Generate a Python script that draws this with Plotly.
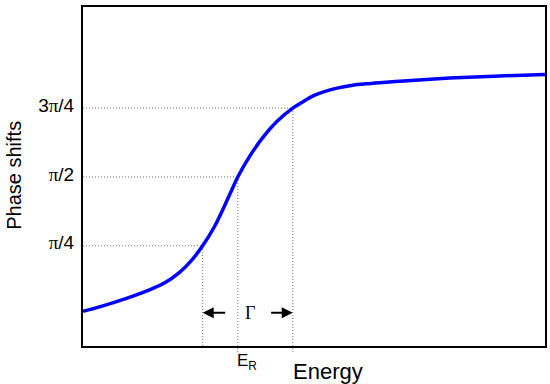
import plotly.graph_objects as go

# Curve (energy in arbitrary units 0..10, phase in radians)
energy = [0, 0.36, 0.94, 1.44, 1.77, 2.09, 2.35, 2.59, 2.85, 3.07, 3.22, 3.35,
          3.61, 3.89, 4.19, 4.54, 4.76, 4.97, 5.19, 5.41, 5.62, 5.84, 6.12,
          6.42, 7.03, 7.94, 9.02, 10]
phase = [0.037, 0.089, 0.186, 0.283, 0.363, 0.483, 0.620, 0.785, 1.008, 1.248,
         1.423, 1.571, 1.809, 2.020, 2.200, 2.356, 2.429, 2.493, 2.539, 2.573,
         2.597, 2.617, 2.633, 2.646, 2.669, 2.699, 2.723, 2.741]

# Marked energies: phase = pi/4, pi/2 (E_R), 3pi/4
mark_energy = [2.59, 3.35, 4.54]
mark_phase = [0.7854, 1.5708, 2.3562]
pi_span = '<span style="font-family:Liberation Serif">π</span>'
tick_text = [pi_span + "/4", pi_span + "/2", "3" + pi_span + "/4"]

x_range = [0, 10]
y_range = [-0.358, 3.51]

fig = go.Figure()
fig.add_trace(go.Scatter(x=energy, y=phase, mode="lines",
                         line=dict(color="#0000FF", width=3.5, shape="spline",
                                   smoothing=0.8),
                         hoverinfo="skip", showlegend=False))

dot = dict(color="#707070", width=1, dash="1px,2px")
shapes = []
for e, p in zip(mark_energy, mark_phase):
    shapes.append(dict(type="line", xref="x", yref="y", x0=x_range[0], x1=e,
                       y0=p, y1=p, line=dot, layer="below"))
    shapes.append(dict(type="line", xref="x", yref="y", x0=e, x1=e,
                       y0=y_range[0], y1=p, line=dot, layer="below"))
for e in mark_energy[1:]:
    shapes.append(dict(type="line", xref="x", yref="paper", x0=e, x1=e,
                       y0=-0.018, y1=0, line=dot))

arrow_y = 0.022
annotations = [
    dict(x=mark_energy[0], y=arrow_y, ax=mark_energy[0] + 0.52, ay=arrow_y,
         xref="x", yref="y", axref="x", ayref="y", text="", showarrow=True,
         arrowhead=2, arrowsize=1.1, arrowwidth=2, arrowcolor="black"),
    dict(x=mark_energy[2], y=arrow_y, ax=mark_energy[2] - 0.5, ay=arrow_y,
         xref="x", yref="y", axref="x", ayref="y", text="", showarrow=True,
         arrowhead=2, arrowsize=1.1, arrowwidth=2, arrowcolor="black"),
    dict(x=3.62, y=arrow_y, xref="x", yref="y",
         text="Γ", showarrow=False,
         font=dict(family="Liberation Serif", size=18, color="black")),
    dict(x=mark_energy[1], y=0, xref="x", yref="paper", xanchor="left",
         yanchor="top", xshift=-3, yshift=-3, text="E<sub>R</sub>", showarrow=False,
         font=dict(family="Liberation Sans", size=17, color="black")),
    dict(x=mark_energy[2], y=0, xref="x", yref="paper", xanchor="left",
         yanchor="top", xshift=-2, yshift=-11, text="Energy", showarrow=False,
         font=dict(family="Liberation Sans", size=22, color="black")),
    dict(x=-0.148, y=0.504, xref="paper", yref="paper", xanchor="center",
         yanchor="middle", textangle=-90, text="Phase shifts", showarrow=False,
         font=dict(family="Liberation Sans", size=20, color="black")),
]

fig.update_layout(
    width=550, height=384,
    margin=dict(l=83, r=5, t=7, b=38),
    paper_bgcolor="white", plot_bgcolor="white",
    shapes=shapes, annotations=annotations,
    xaxis=dict(range=x_range, showgrid=False, zeroline=False, showticklabels=False,
               ticks="", showline=True, linecolor="black", linewidth=2, mirror=True,
               automargin=False),
    yaxis=dict(range=y_range, showgrid=False, zeroline=False,
               tickvals=mark_phase, ticktext=tick_text, ticks="",
               ticklabelstandoff=3, ticklabelshift=-3,
               tickfont=dict(family="Liberation Sans", size=19, color="black"),
               showline=True, linecolor="black", linewidth=2, mirror=True,
               automargin=False),
)

fig.write_html("out.html", config={"displayModeBar": False},
               post_script="document.body.style.margin='0';"
                           "document.body.style.overflow='hidden';")
